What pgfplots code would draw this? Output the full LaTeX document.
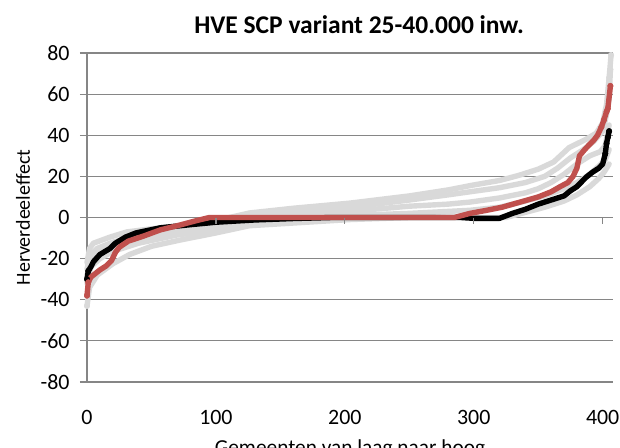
\documentclass[border=0pt]{standalone}
\usepackage{pgfplots}
\pgfplotsset{compat=1.18}
\usepackage{fontspec}
\setmainfont{Carlito}
\begin{document}
\begin{tikzpicture}
\definecolor{gridgray}{RGB}{134,134,134}
\definecolor{lgray}{RGB}{217,217,217}
\definecolor{xred}{RGB}{192,80,77}
\begin{axis}[name=ax, at={(0,0)}, anchor=south west, scale only axis,
  width=263bp, height=164.5bp,
  xmin=0, xmax=408, ymin=-80, ymax=80,
  xtick={0,100,200,300,400}, ytick={-80,-60,...,80},
  axis lines*=left,
  axis line style={draw=gridgray, line width=0.6bp, -},
  ymajorgrids, grid style={draw=gridgray, line width=0.6bp},
  tick align=outside, major tick length=3.5bp,
  ytick style={draw=gridgray, line width=0.6bp},
  xtick style={draw=none},
  ticklabel style={font=\fontsize{11}{13}\selectfont},
  /pgf/number format/assume math mode=true,
  yticklabel style={inner sep=0pt, xshift=-5bp},
  xticklabel style={inner sep=0pt, yshift=-10.5bp},
  clip=false,
  every axis plot/.append style={line width=2.7bp, line join=round, line cap=round, solid},
  grayser/.style={lgray, no marks},
  tail/.style={only marks, mark=*, mark size=1.4bp, mark options={draw=#1, fill=#1, line width=0.2bp}},
]
% gray series
\addplot[grayser] coordinates {(0,-22)(2,-15)(5,-12.5)(18,-9.5)(31,-7)(50,-5.5)(75,-4)(100,-1.5)(126,2.2)(160,4.5)(204,7)(250,10.5)(281,13.5)(297,15.5)(320,18)(335,20.5)(350,23.5)(362,27)(374,34)(387,38)(395,41)(400,46)(403,55)(405,68)(406.5,79)};
\addplot[grayser] coordinates {(0,-25)(3,-18)(8,-15)(20,-12)(35,-9.5)(55,-7)(80,-4.5)(100,-2.5)(126,0)(160,2.5)(204,5)(250,8.5)(280,11)(297,12.5)(320,14.5)(340,17)(355,20)(365,24)(375,29)(385,33)(393,37)(400,42)(403,50)(405,58)(406,72)};
\addplot[grayser] coordinates {(0,-28)(3,-21)(10,-17)(25,-13.5)(45,-10.5)(70,-7.5)(100,-5)(126,-2)(160,0.5)(204,3)(250,5.5)(280,6.5)(297,7.5)(320,9.5)(340,12)(350,14)(360,17)(370,21)(380,26)(390,30)(398,32)(402,35)(405,45)};
\addplot[grayser] coordinates {(0,-32)(3,-24)(10,-20)(20,-16.5)(40,-12.5)(70,-8.5)(100,-6)(126,-3.2)(165,-1.5)(204,1)(250,2)(297,3.5)(320,5)(340,8)(355,10.5)(370,14)(380,17)(390,21)(397,25)(402,28)(405,33)};
\addplot[grayser] coordinates {(0,-43)(2,-34)(8,-28)(20,-22.5)(33,-18)(50,-14)(72,-11)(100,-7.5)(126,-4)(165,-2.5)(204,-1)(250,0)(300,0)(325,0)(340,2.5)(355,5)(370,8)(380,11)(390,15)(397,19)(401,22)(405,26)};
\addplot[tail=lgray] coordinates {(406.5,79)(406,72)(405,68)(0,-43)};
% black series
\addplot[black, no marks] coordinates {(0,-30)(1,-26)(3,-24)(5,-21.5)(10,-18)(18,-15)(22,-12.5)(30,-9.5)(38,-7.5)(57,-5)(80,-3.5)(100,-2.3)(130,-1.2)(160,-0.5)(190,0)(290,0)(300,-0.4)(320,-0.4)(325,0.8)(330,2)(340,4)(350,6.5)(360,8.5)(370,10.5)(375,13)(380,15)(387,19.5)(392,22)(397,24)(400,26)(401,28.5)(402,31)(403,36)(404,39)(405,42)};
\addplot[tail=black] coordinates {(0,-30)(1,-26)(402,31)(403,36)(404,39)(405,42)};
% red series
\addplot[xred, no marks] coordinates {(0,-38)(1,-31.5)(3,-29)(6,-27.5)(10,-25.5)(15,-23.5)(19,-21)(22,-17)(25,-14.5)(32,-11.5)(44,-9)(57,-6)(70,-4)(85,-1.5)(95,0)(285,0)(297,2)(310,3.5)(322,5)(336,7.5)(350,10)(360,12.5)(367,15)(373,17)(377,20)(380,24)(382,30)(386,33)(389,35)(393,37.5)(396,40)(399,44)(401,47.5)(403,51.5)(404,53)(406,64)};
\addplot[tail=xred] coordinates {(0,-38)(1,-31.5)(399,44)(401,47.5)(403,51.5)(404,53)(406,64)};
\foreach \t in {100,200,300,400}{\edef\tmp{\noexpand\draw[gridgray, line width=0.6bp] (axis cs:\t,0) -- ([yshift=-3bp]axis cs:\t,0);}\tmp}
\end{axis}
\node[font=\bfseries\fontsize{12.8}{15}\selectfont, anchor=base] at ([xshift=4.5bp, yshift=10bp]ax.north) {HVE SCP variant 25-40.000 inw.};
\node[rotate=90, font=\fontsize{10}{12}\selectfont, anchor=center] at ([xshift=-32bp]ax.west) {Herverdeeleffect};
\node[anchor=north, inner sep=0pt, font=\fontsize{10.7}{12}\selectfont] at ([yshift=-28.5bp]ax.south) {Gemeenten van laag naar hoog};
\pgfresetboundingbox
\useasboundingbox (ax.south west) ++(-43.5bp,-33bp) rectangle ++(310bp,224bp);
\end{tikzpicture}
\end{document}
